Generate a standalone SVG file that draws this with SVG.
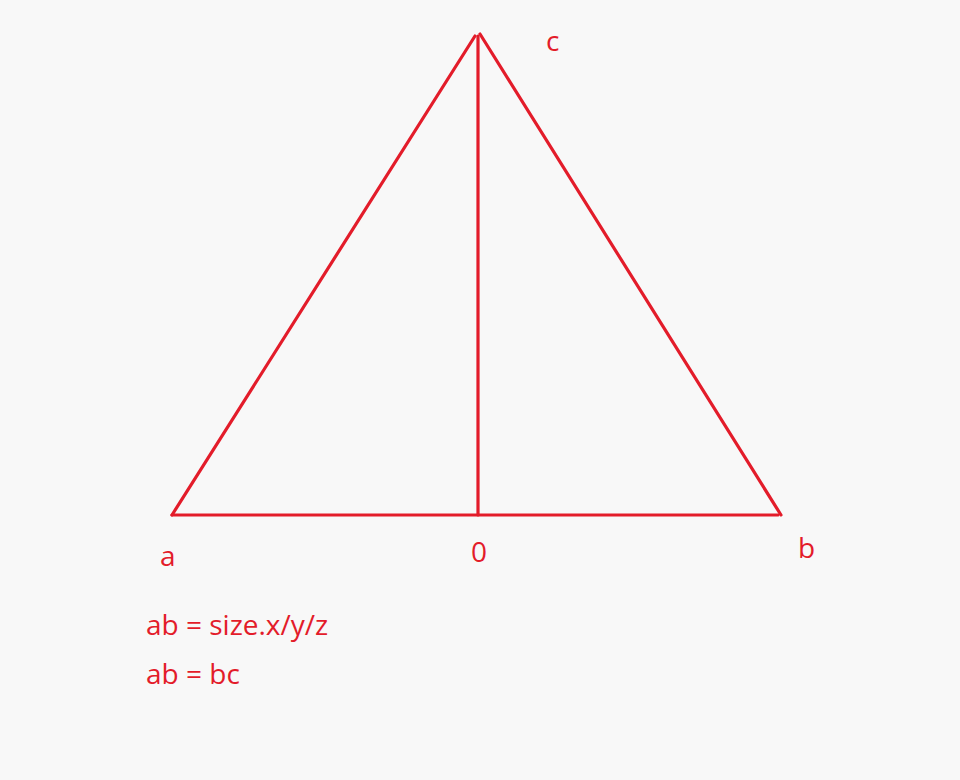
<svg xmlns="http://www.w3.org/2000/svg" width="960" height="780" viewBox="0 0 960 780">
<style>
.ln{stroke:#e31c2a;stroke-width:3.2;fill:none;stroke-linecap:round}
.t{fill:#e31c2a;font-family:"Open Sans","Liberation Sans",sans-serif;font-size:28px}
</style>
<rect width="960" height="780" fill="#f8f8f8"/>
<g id="connectors">
<line class="ln" x1="172" y1="515" x2="475" y2="36"/>
<line class="ln" x1="480" y1="34" x2="781" y2="515"/>
<line class="ln" x1="478" y1="36" x2="478" y2="515"/>
<line class="ln" x1="172" y1="515" x2="778" y2="515"/>
</g>
<g id="c"><text class="t" x="546" y="51">c</text></g>
<g id="a"><text class="t" x="160" y="566">a</text></g>
<g id="o"><text class="t" x="471" y="562">0</text></g>
<g id="b"><text class="t" x="798" y="558">b</text></g>
<g id="notes">
<text class="t" x="146" y="635">ab = size.x/y/z</text>
<text class="t" x="146" y="684">ab = bc</text>
</g>
</svg>
